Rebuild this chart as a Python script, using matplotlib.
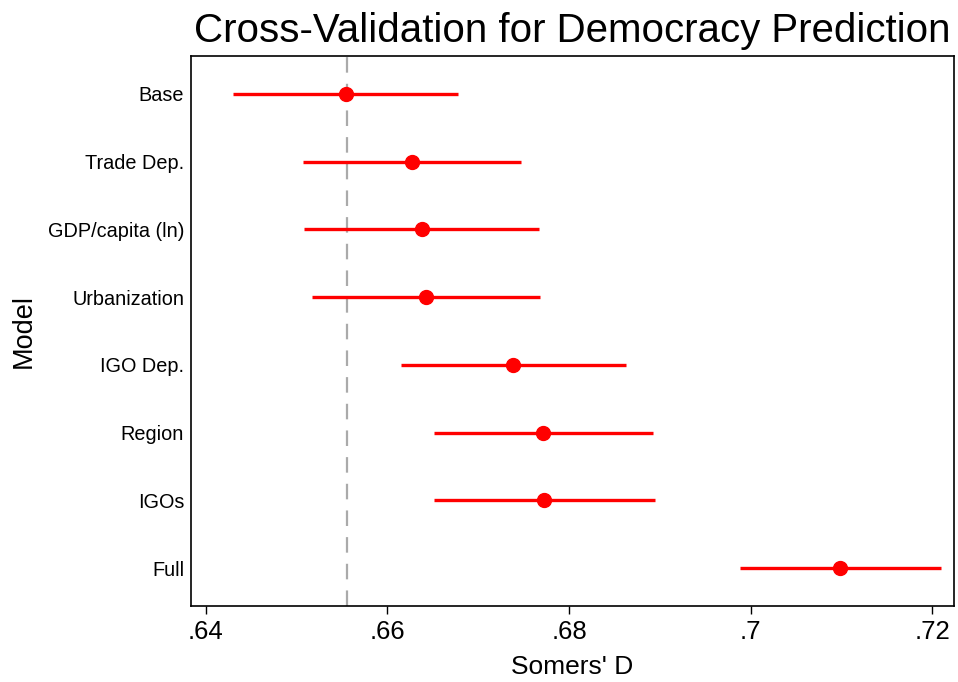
import matplotlib
matplotlib.use("Agg")
import matplotlib.pyplot as plt

plt.rcParams["font.family"] = ["Liberation Sans", "DejaVu Sans"]

models = ["Base", "Trade Dep.", "GDP/capita (ln)", "Urbanization",
          "IGO Dep.", "Region", "IGOs", "Full"]
estimate = [0.6554, 0.6627, 0.6638, 0.6642, 0.6738, 0.6771, 0.6772, 0.7099]
lower = [0.6430, 0.6507, 0.6508, 0.6517, 0.6615, 0.6651, 0.6651, 0.6988]
upper = [0.6678, 0.6747, 0.6767, 0.6768, 0.6863, 0.6893, 0.6895, 0.7210]
base_ref = 0.6555
xticks = [0.64, 0.66, 0.68, 0.70, 0.72]
xtick_labels = [".64", ".66", ".68", ".7", ".72"]

fig = plt.figure(figsize=(9.58, 6.82), dpi=100)
ax = fig.add_axes([191 / 958, 1 - 606 / 682, (954 - 191) / 958, (606 - 56) / 682])

ypos = list(range(len(models)))
ax.axvline(base_ref, color="#aaaaaa", lw=1.6, dashes=(7, 5), zorder=1)
ax.hlines(ypos, lower, upper, color="red", lw=2.4, zorder=2)
ax.plot(estimate, ypos, "o", color="red", ms=10, zorder=3)

ax.set_ylim(len(models) - 1 + 0.56, -0.56)
ax.set_yticks(ypos)
ax.set_yticklabels(models, fontsize=14.3)
ax.tick_params(axis="y", length=0, pad=5)

ax.set_xlim(0.63835, 0.72242)
ax.set_xticks(xticks)
ax.set_xticklabels(xtick_labels, fontsize=18.5)
ax.tick_params(axis="x", length=6, width=1, pad=4)

for s in ax.spines.values():
    s.set_linewidth(1.2)

ax.set_xlabel("Somers' D", fontsize=19, labelpad=8)
ax.set_ylabel("Model", fontsize=19.5, labelpad=8)
ax.set_title("Cross-Validation for Democracy Prediction", fontsize=29, pad=10)

fig.savefig("out.png", dpi=100)
